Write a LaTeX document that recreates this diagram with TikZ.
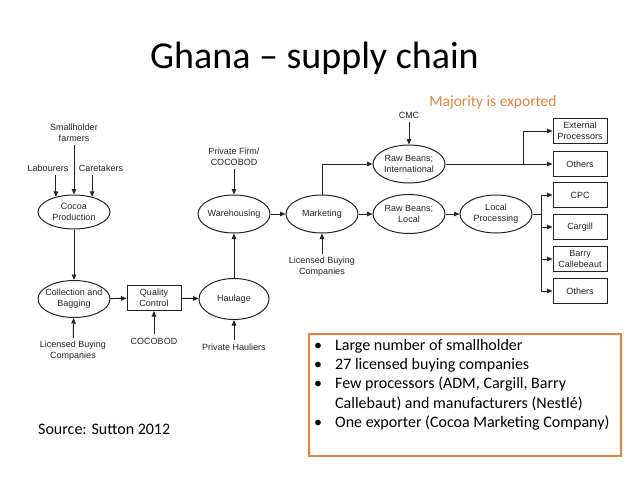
\documentclass[tikz,border=0pt]{standalone}
\usepackage{fontspec}
\setmainfont{Carlito}
\newfontfamily\diagfont{Liberation Sans}
\usetikzlibrary{arrows.meta,shapes.geometric}
\definecolor{myorange}{RGB}{228,130,60}
\definecolor{mygray}{RGB}{35,35,35}

\begin{document}
\begin{tikzpicture}[x=1pt,y=-1pt,
every node/.style={mygray,align=center,font=\diagfont\fontsize{9}{11}\selectfont},
oval/.style={draw=mygray,ellipse,line width=1pt,minimum width=72pt,minimum height=37pt,inner xsep=-6pt,inner ysep=0pt},
rbox/.style={draw=mygray,line width=1pt,minimum width=54pt,minimum height=25pt,inner sep=0pt},
flow/.style={mygray,line width=1pt,-{Triangle[length=5.5pt,width=4.5pt]}},
slide/.style 2 args={black,font=\fontsize{#1}{#2}\selectfont}]
\useasboundingbox (0,0) rectangle (638,479);
\node[slide={38}{45},anchor=base] (title) at (314.5,68) {Ghana – supply chain};
\node[slide={15.5}{18.6},myorange] (majority) at (493,102) {Majority is exported};
\node[slide={16}{19.3},anchor=base west,inner sep=0pt] (source) at (38,434) {Source: Sutton 2012};
\node[draw=myorange,line width=1.8pt,minimum width=312pt,minimum height=122pt,anchor=north west] (facts) at (308,333) {};
\node[slide={16}{19.3},anchor=north west,align=left,inner sep=0pt] (factlist) at (314,336.5) {%
\begin{tabular}{@{}p{15pt}@{\hspace{6pt}}l@{}}
• & Large number of smallholder\\
• & 27 licensed buying companies\\
• & Few processors (ADM, Cargill, Barry\\
  & Callebaut) and manufacturers (Nestlé)\\
• & One exporter (Cocoa Marketing Company)
\end{tabular}};
\node (farmers) at (74,133) {Smallholder\\farmers};
\node (labourers) at (48,168) {Labourers};
\node (caretakers) at (101,168) {Caretakers};
\node[oval,minimum height=34pt] (cocoa) at (74,212) {Cocoa\\Production};
\node[oval] (collect) at (74,299) {Collection and\\Bagging};
\node (lbc1) at (73,351) {Licensed Buying\\Companies};
\node[rbox] (quality) at (154,298) {Quality\\Control};
\node (cocobod) at (154,341) {COCOBOD};
\node[oval,minimum width=70pt,minimum height=41pt] (haulage) at (234,299) {Haulage};
\node (hauliers) at (234,347) {Private Hauliers};
\node[oval,minimum height=38pt] (warehouse) at (234,214) {Warehousing};
\node (firm) at (234,157) {Private Firm/\\COCOBOD};
\node[oval,minimum height=38pt] (marketing) at (322,214) {Marketing};
\node (lbc2) at (322,267) {Licensed Buying\\Companies};
\node[oval,minimum height=38pt] (rbint) at (409,164) {Raw Beans;\\International};
\node (cmc) at (409,115) {CMC};
\node[oval,minimum height=39pt] (rblocal) at (409,214) {Raw Beans;\\Local};
\node[oval,minimum height=38pt] (localproc) at (496,214) {Local\\Processing};
\node[rbox] (extproc) at (580,131) {External\\Processors};
\node[rbox] (others1) at (580,164) {Others};
\node[rbox] (cpc) at (580,195) {CPC};
\node[rbox] (cargill) at (580,227) {Cargill};
\node[rbox] (barry) at (580,259) {Barry\\Callebeaut};
\node[rbox] (others2) at (580,291) {Others};
\coordinate (split1) at (523,164);
\coordinate (split2) at (541,214);
\draw[flow] (labourers.south -| cocoa.140) -- (cocoa.140);
\draw[flow] (caretakers.south -| cocoa.40) -- (cocoa.40);
\draw[flow] (farmers) -- (cocoa);
\draw[flow] (cocoa) -- (collect);
\draw[flow] (lbc1) -- (collect);
\draw[flow] (collect) -- (quality);
\draw[flow] (cocobod) -- (quality);
\draw[flow] (quality) -- (haulage);
\draw[flow] (hauliers) -- (haulage);
\draw[flow] (haulage) -- (warehouse);
\draw[flow] (firm) -- (warehouse);
\draw[flow] (warehouse) -- (marketing);
\draw[flow] (lbc2) -- (marketing);
\draw[flow] (marketing.north) |- (rbint);
\draw[flow] (marketing) -- (rblocal);
\draw[flow] (cmc) -- (rbint);
\draw[flow] (rblocal) -- (localproc);
\draw[flow] (rbint) -- (others1);
\draw[flow] (split1) |- (extproc);
\draw[mygray,line width=1pt] (localproc) -- (split2);
\draw[mygray,line width=1pt] (split2 |- cpc) -- (split2 |- others2);
\foreach \b in {cpc,cargill,barry,others2}
  \draw[flow] (split2 |- \b) -- (\b);
\end{tikzpicture}
\end{document}
